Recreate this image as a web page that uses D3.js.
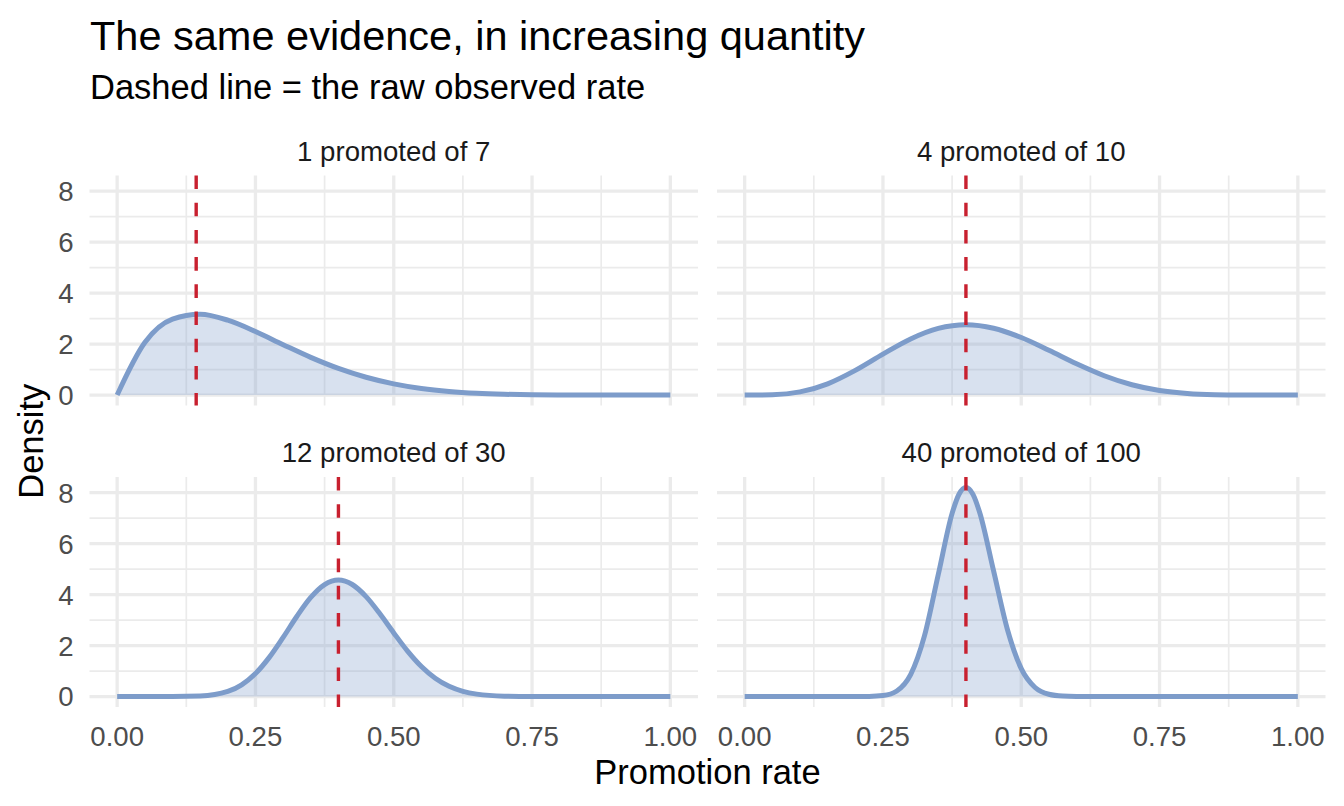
<!DOCTYPE html>
<html>
<head>
<meta charset="utf-8">
<script src="https://cdn.jsdelivr.net/npm/d3@7"></script>
<style>
  body { margin: 0; background: #fff; }
  text { font-family: "Liberation Sans", Arial, sans-serif; }
</style>
</head>
<body>
<div id="chart-area"></div>
<script>

var width = 1344,
    height = 806;

// Data
var panelTitles = ["1 promoted of 7", "4 promoted of 10", "12 promoted of 30", "40 promoted of 100"];
var promoted = [1, 4, 12, 40];
var totals = [7, 10, 30, 100];

var xGrid = [0, 0.05, 0.10, 0.15, 0.20, 0.25, 0.30, 0.35, 0.40, 0.45, 0.50,
             0.55, 0.60, 0.65, 0.70, 0.75, 0.80, 0.85, 0.90, 0.95, 1];

var density1 = [0, 2.058, 2.976, 3.168, 2.936, 2.492, 1.977, 1.478, 1.045, 0.698, 0.438,
                0.256, 0.138, 0.067, 0.029, 0.010, 0.003, 0.001, 0, 0, 0];
var density2 = [0, 0.011, 0.123, 0.441, 0.969, 1.606, 2.201, 2.614, 2.759, 2.622, 2.256,
                1.755, 1.226, 0.758, 0.404, 0.178, 0.061, 0.014, 0.002, 0, 0];

var xMid = [0, 0.05, 0.10, 0.15, 0.20, 0.225, 0.25, 0.275, 0.30, 0.325, 0.35, 0.375, 0.40,
            0.425, 0.45, 0.475, 0.50, 0.525, 0.55, 0.575, 0.60, 0.625, 0.65, 0.70, 0.75, 0.80, 1];
var density3 = [0, 0, 0.0004, 0.019, 0.198, 0.459, 0.901, 1.536, 2.320, 3.151, 3.887, 4.391, 4.569,
                4.396, 3.921, 3.247, 2.497, 1.781, 1.176, 0.717, 0.401, 0.205, 0.095, 0.014, 0.001, 0, 0];

var xFine = [0, 0.1, 0.2, 0.225, 0.25, 0.275, 0.3, 0.325, 0.35, 0.375, 0.3875, 0.4, 0.4125,
             0.425, 0.45, 0.475, 0.5, 0.525, 0.55, 0.575, 0.6, 0.625, 0.7, 0.8, 0.9, 1];
var density4 = [0, 0, 0.0002, 0.004, 0.037, 0.217, 0.858, 2.377, 4.787, 7.187, 7.938, 8.203, 7.943,
                7.213, 4.929, 2.629, 1.095, 0.355, 0.089, 0.017, 0.003, 0.0003, 0, 0, 0, 0];

var xTicks = [0, 0.25, 0.5, 0.75, 1];
var xMinor = [0.125, 0.375, 0.625, 0.875];
var yTicks = [0, 2, 4, 6, 8];
var yMinor = [1, 3, 5, 7];

var series = [
  {x: xGrid, y: density1},
  {x: xGrid, y: density2},
  {x: xMid, y: density3},
  {x: xFine, y: density4}
];

// Layout
var panelW = 608.5,
    panelH = 230,
    colLeft = [89.5, 717],
    rowTop = [175.5, 477];

var lineColor = "#7D9CCA",
    rateColor = "#C8202F",
    gridColor = "#EBEBEB";

var svg = d3.select("#chart-area").append("svg")
    .attr("width", width)
    .attr("height", height);

var x = d3.scaleLinear().domain([-0.05, 1.05]).range([0, panelW]);

var yMax = d3.max(series, function(s) { return d3.max(s.y); });
var y = d3.scaleLinear().domain([-yMax * 0.05, yMax * 1.05]).range([panelH, 0]);

var area = d3.area()
    .x(function(d) { return x(d[0]); })
    .y0(y(0))
    .y1(function(d) { return y(d[1]); })
    .curve(d3.curveMonotoneX);

var line = d3.line()
    .x(function(d) { return x(d[0]); })
    .y(function(d) { return y(d[1]); })
    .curve(d3.curveMonotoneX);

// Titles
svg.append("text")
    .attr("x", 90)
    .attr("y", 50)
    .style("font-size", "41.5px")
    .style("fill", "#000")
    .text("The same evidence, in increasing quantity");

svg.append("text")
    .attr("x", 90)
    .attr("y", 99)
    .style("font-size", "34.5px")
    .style("fill", "#000")
    .text("Dashed line = the raw observed rate");

// Panels
series.forEach(function(s, i) {
  var col = i % 2,
      row = Math.floor(i / 2);

  var g = svg.append("g")
      .attr("transform", "translate(" + colLeft[col] + "," + rowTop[row] + ")");

  // strip label
  g.append("text")
      .attr("x", panelW / 2)
      .attr("y", -15)
      .attr("text-anchor", "middle")
      .style("font-size", "27.6px")
      .style("fill", "#1A1A1A")
      .text(panelTitles[i]);

  // minor grid
  g.selectAll(".vminor").data(xMinor).enter().append("line")
      .attr("x1", d => x(d)).attr("x2", d => x(d))
      .attr("y1", 0).attr("y2", panelH)
      .style("stroke", gridColor).style("stroke-width", 1.7);
  g.selectAll(".hminor").data(yMinor).enter().append("line")
      .attr("x1", 0).attr("x2", panelW)
      .attr("y1", d => y(d)).attr("y2", d => y(d))
      .style("stroke", gridColor).style("stroke-width", 1.7);

  // major grid
  g.selectAll(".vmajor").data(xTicks).enter().append("line")
      .attr("x1", d => x(d)).attr("x2", d => x(d))
      .attr("y1", 0).attr("y2", panelH)
      .style("stroke", gridColor).style("stroke-width", 3.3);
  g.selectAll(".hmajor").data(yTicks).enter().append("line")
      .attr("x1", 0).attr("x2", panelW)
      .attr("y1", d => y(d)).attr("y2", d => y(d))
      .style("stroke", gridColor).style("stroke-width", 3.3);

  var pts = s.x.map(function(v, j) { return [v, s.y[j]]; });

  g.append("path")
      .datum(pts)
      .attr("d", area)
      .style("fill", lineColor)
      .style("fill-opacity", 0.3);

  g.append("path")
      .datum(pts)
      .attr("d", line)
      .style("fill", "none")
      .style("stroke", lineColor)
      .style("stroke-width", 5);

  // observed rate
  var rate = promoted[i] / totals[i];
  g.append("line")
      .attr("x1", x(rate)).attr("x2", x(rate))
      .attr("y1", 0).attr("y2", panelH)
      .style("stroke", rateColor)
      .style("stroke-width", 3.4)
      .style("stroke-dasharray", "13.6,13.6");

  // y tick labels on the left column
  if (col == 0) {
    g.selectAll(".ylab").data(yTicks).enter().append("text")
        .attr("x", -16)
        .attr("y", d => y(d))
        .attr("dy", "0.36em")
        .attr("text-anchor", "end")
        .style("font-size", "27.6px")
        .style("fill", "#4D4D4D")
        .text(d => d);
  }

  // x tick labels on the bottom row
  if (row == 1) {
    g.selectAll(".xlab").data(xTicks).enter().append("text")
        .attr("x", d => x(d))
        .attr("y", panelH + 39)
        .attr("text-anchor", "middle")
        .style("font-size", "27.6px")
        .style("fill", "#4D4D4D")
        .text(d3.format(".2f"));
  }
});

// Axis titles
svg.append("text")
    .attr("x", (colLeft[0] + colLeft[1] + panelW) / 2)
    .attr("y", 784)
    .attr("text-anchor", "middle")
    .style("font-size", "34.5px")
    .style("fill", "#000")
    .text("Promotion rate");

svg.append("text")
    .attr("transform", "translate(43," + (rowTop[0] + rowTop[1] + panelH) / 2 + ") rotate(-90)")
    .attr("text-anchor", "middle")
    .style("font-size", "34.5px")
    .style("fill", "#000")
    .text("Density");

</script>
</body>
</html>
